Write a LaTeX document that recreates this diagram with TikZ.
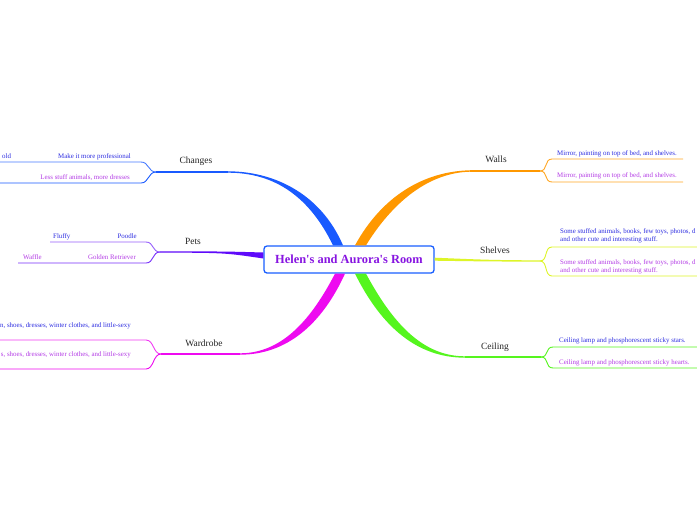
\documentclass[tikz,border=0pt]{standalone}
\usepackage{fontspec}
\setmainfont{Liberation Serif}[Ligatures=TeXOff]
\usetikzlibrary{positioning}
\definecolor{RootBlue}{RGB}{25,95,255}
\definecolor{RootText}{RGB}{135,20,225}
\definecolor{ChangesBlue}{RGB}{25,90,255}
\definecolor{PetsViolet}{RGB}{95,10,250}
\definecolor{WardrobePink}{RGB}{238,10,240}
\definecolor{WallsOrange}{RGB}{255,152,0}
\definecolor{ShelvesYellow}{RGB}{222,245,40}
\definecolor{CeilingGreen}{RGB}{85,245,30}
\definecolor{LeafBlue}{RGB}{45,45,225}
\definecolor{LeafViolet}{RGB}{180,60,230}

\begin{document}
\begin{tikzpicture}[x=1pt, y=-1pt]
    \tikzset{
        room/.style={rectangle, rounded corners=3pt, draw=RootBlue,
            line width=1.3pt, fill=white, minimum width=170pt,
            minimum height=27pt, text=RootText,
            font=\fontsize{12.4}{14}\selectfont\bfseries},
        topic/.style={inner sep=0pt, text=black!85,
            font=\fontsize{9.5}{11}\selectfont},
        leaf/.style={inner sep=0pt, font=\fontsize{6.9}{8.2}\selectfont},
        leafa/.style={leaf, text=LeafBlue},
        leafb/.style={leaf, text=LeafViolet},
        under/.style={line width=1.1pt},
        twig/.style={line width=0.9pt}
    }
    \useasboundingbox (0,0) rectangle (697,520);
    \clip (0,0) rectangle (697,520);
    \fill[white] (0,0) rectangle (697,520);

    % main topic
    \node[room] (room) at (349,259.5) {Helen's and Aurora's Room};

    % left side topics
    \node[topic] (changes) at (196,161) {Changes};
    \node[topic] (pets) at (193,241) {Pets};
    \node[topic] (wardrobe) at (204,343) {Wardrobe};
    % right side topics
    \node[topic] (walls) at (496,159) {Walls};
    \node[topic] (shelves) at (495,250) {Shelves};
    \node[topic] (ceiling) at (495,347) {Ceiling};

    % joints
    \coordinate (ch-end) at (228,172);
    \coordinate (ch-fork) at (156,172);
    \coordinate (ch-a) at (141,162);
    \coordinate (ch-a0) at (0,162);
    \coordinate (ch-b) at (141,183);
    \coordinate (ch-b0) at (0,183);
    \coordinate (pe-fork) at (160,252);
    \coordinate (pe-a) at (146,242);
    \coordinate (pe-a0) at (50,242);
    \coordinate (pe-b) at (146,263);
    \coordinate (pe-b0) at (18,263);
    \coordinate (wa-end) at (240,354);
    \coordinate (wa-fork) at (161,354);
    \coordinate (wa-a) at (146,340);
    \coordinate (wa-a0) at (0,340);
    \coordinate (wa-b) at (146,369);
    \coordinate (wa-b0) at (0,369);
    \coordinate (wl-end) at (470,171);
    \coordinate (wl-fork) at (540,171);
    \coordinate (wl-a) at (552,159);
    \coordinate (wl-a0) at (683,159);
    \coordinate (wl-b) at (552,182);
    \coordinate (wl-b0) at (683,182);
    \coordinate (sh-fork) at (540,261);
    \coordinate (sh-a) at (552,247);
    \coordinate (sh-a0) at (697,247);
    \coordinate (sh-b) at (552,276);
    \coordinate (sh-b0) at (697,276);
    \coordinate (ce-end) at (465,357);
    \coordinate (ce-fork) at (541,357);
    \coordinate (ce-a) at (553,347);
    \coordinate (ce-a0) at (697,347);
    \coordinate (ce-b) at (553,368);
    \coordinate (ce-b0) at (697,368);

    % thick branches
    \fill[ChangesBlue] ([xshift=-6pt]room.north) .. controls (320,192) and (272,171.3)
        .. ([yshift=0.7pt]ch-end) -- ([yshift=-0.7pt]ch-end)
        .. controls (276,172.7) and (310,198) .. ([xshift=-16pt]room.north) -- cycle;
    \fill[WallsOrange] ([xshift=6pt]room.north) .. controls (382,196) and (424,171.3)
        .. ([yshift=0.7pt]wl-end) -- ([yshift=-0.7pt]wl-end)
        .. controls (428,172.7) and (392,203) .. ([xshift=17pt]room.north) -- cycle;
    \fill[WardrobePink] ([xshift=-14pt]room.south) .. controls (312,318) and (283,353.3)
        .. ([yshift=0.7pt]wa-end) -- ([yshift=-0.7pt]wa-end)
        .. controls (287,354.7) and (322,324) .. ([xshift=-4pt]room.south) -- cycle;
    \fill[CeilingGreen] ([xshift=17pt]room.south) .. controls (392,322) and (422,356.3)
        .. ([yshift=0.7pt]ce-end) -- ([yshift=-0.7pt]ce-end)
        .. controls (418,357.7) and (382,328) .. ([xshift=6pt]room.south) -- cycle;
    \fill[PetsViolet] ([yshift=7pt]room.west) .. controls (225,251.4)
        .. ([yshift=0.6pt]pe-fork) -- ([yshift=-0.6pt]pe-fork)
        .. controls (225,252.8) .. ([yshift=1pt]room.west) -- cycle;
    \fill[ShelvesYellow] ([yshift=1.8pt]room.east) .. controls (490,260)
        .. ([yshift=0.6pt]sh-fork) -- ([yshift=-0.6pt]sh-fork)
        .. controls (490,261.5) .. ([yshift=-1.2pt]room.east) -- cycle;

    % underlines
    \draw[under, ChangesBlue] (ch-end) -- (ch-fork);
    \draw[under, WardrobePink] (wa-end) -- (wa-fork);
    \draw[under, WallsOrange] (wl-end) -- (wl-fork);
    \draw[under, CeilingGreen] (ce-end) -- (ce-fork);

    % twigs
    \draw[twig, ChangesBlue!80] (ch-fork) .. controls +(-8,0) and +(8,0) .. (ch-a) -- (ch-a0);
    \draw[twig, ChangesBlue] (ch-fork) .. controls +(-8,0) and +(8,0) .. (ch-b) -- (ch-b0);
    \draw[twig, PetsViolet!65] (pe-fork) .. controls +(-8,0) and +(8,0) .. (pe-a) -- (pe-a0);
    \draw[twig, PetsViolet!85] (pe-fork) .. controls +(-8,0) and +(8,0) .. (pe-b) -- (pe-b0);
    \draw[twig, WardrobePink!80] (wa-fork) .. controls +(-8,0) and +(8,0) .. (wa-a) -- (wa-a0);
    \draw[twig, WardrobePink] (wa-fork) .. controls +(-8,0) and +(8,0) .. (wa-b) -- (wa-b0);
    \draw[twig, WallsOrange!85] (wl-fork) .. controls +(8,0) and +(-8,0) .. (wl-a) -- (wl-a0);
    \draw[twig, WallsOrange!85] (wl-fork) .. controls +(8,0) and +(-8,0) .. (wl-b) -- (wl-b0);
    \draw[twig, ShelvesYellow] (sh-fork) .. controls +(8,0) and +(-8,0) .. (sh-a) -- (sh-a0);
    \draw[twig, ShelvesYellow] (sh-fork) .. controls +(8,0) and +(-8,0) .. (sh-b) -- (sh-b0);
    \draw[twig, CeilingGreen] (ce-fork) .. controls +(8,0) and +(-8,0) .. (ce-a) -- (ce-a0);
    \draw[twig, CeilingGreen] (ce-fork) .. controls +(8,0) and +(-8,0) .. (ce-b) -- (ce-b0);

    % leaf texts
    \node[leafa, anchor=base east] (prof) at (131,158) {Make it more professional};
    \node[leafa, anchor=base west] (old) at (2,158) {old};
    \node[leafb, anchor=base east] (less) at (130,179) {Less stuff animals, more dresses};
    \node[leafa, anchor=base east] (poodle) at (137,238) {Poodle};
    \node[leafa, anchor=base west] (fluffy) at (53,238) {Fluffy};
    \node[leafb, anchor=base east] (golden) at (136,259) {Golden Retriever};
    \node[leafb, anchor=base west] (waffle) at (23,259) {Waffle};
    \node[leafa, anchor=base east] (clothes1) at (131,327) {n, shoes, dresses, winter clothes, and little-sexy};
    \node[leafb, anchor=base east] (clothes2) at (131,356) {s, shoes, dresses, winter clothes, and little-sexy};
    \node[leafa, anchor=base west] (mirror1) at (557,155) {Mirror, painting on top of bed, and shelves.};
    \node[leafb, anchor=base west] (mirror2) at (557,177) {Mirror, painting on top of bed, and shelves.};
    \node[leafa, anchor=north west, align=left] (stuff1) at (560,228)
        {Some stuffed animals, books, few toys, photos, d\\and other cute and interesting stuff.};
    \node[leafb, anchor=north west, align=left] (stuff2) at (560,259)
        {Some stuffed animals, books, few toys, photos, d\\and other cute and interesting stuff.};
    \node[leafa, anchor=base west] (stars) at (559,342) {Ceiling lamp and phosphorescent sticky stars.};
    \node[leafb, anchor=base west] (hearts) at (559,364) {Ceiling lamp and phosphorescent sticky hearts.};
\end{tikzpicture}
\end{document}
